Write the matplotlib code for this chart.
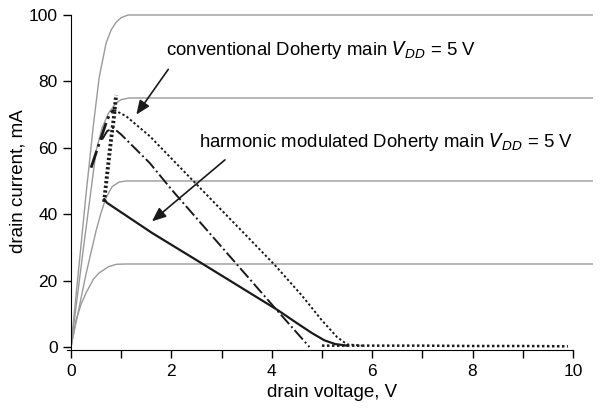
import matplotlib
matplotlib.use("Agg")
import matplotlib.pyplot as plt

plt.rcParams["font.family"] = ["Liberation Sans", "DejaVu Sans"]

# gray device curves (drain voltage V, drain current mA)
iv_100_v = [0, 0.15, 0.3, 0.44, 0.56, 0.7, 0.8, 0.9, 1.0, 1.14, 10.4]
iv_100_i = [0, 23, 46, 66, 81, 91.6, 95.5, 97.8, 99.2, 100, 100]
iv_75_v = [0, 0.25, 0.5, 0.62, 0.75, 0.9, 1.0, 1.16, 10.4]
iv_75_i = [0, 30, 59, 66, 70.5, 73.5, 74.5, 75, 75]
iv_50_v = [0, 0.3, 0.5, 0.6, 0.7, 0.82, 0.96, 1.1, 10.4]
iv_50_i = [0, 22, 35, 40.5, 45, 48.3, 49.7, 50, 50]
iv_25_v = [0, 0.1, 0.2, 0.3, 0.45, 0.56, 0.75, 0.9, 1.1, 10.4]
iv_25_i = [0, 8, 12.8, 16.3, 20.5, 22.3, 24.2, 24.9, 25, 25]

# conventional Doherty main: rising branch and two falling branches
conv_rise_v = [0.40, 0.5, 0.6, 0.7, 0.78, 0.86]
conv_rise_i = [54, 58.5, 63, 67.5, 70.5, 71.4]
conv_outer_v = [0.86, 1.1, 1.57, 2.61, 4.06, 4.6, 5.0, 5.3, 5.5, 5.8]
conv_outer_i = [71.4, 69.5, 63.5, 47.3, 24.7, 15.5, 8, 3, 0.8, 0.4]
conv_inner_v = [0.62, 0.72, 0.84, 1.0, 1.57, 2.01, 2.83, 3.5, 4.06, 4.4, 4.75]
conv_inner_i = [62.5, 65, 66, 64, 55.4, 47.3, 33.1, 21.5, 11.8, 6, 0]

# harmonic modulated Doherty main
harm_up_v = [0.66, 0.72, 0.79, 0.85, 0.9]
harm_up_i = [43.7, 52, 61.4, 68.5, 75.9]
harm_v = [0.66, 0.72, 1.61, 2.67, 4.12, 4.5, 4.8, 5.05, 5.26, 5.5]
harm_i = [44.5, 43.4, 34.4, 24.6, 11.1, 7.2, 4.2, 2.0, 0.9, 0.4]

# traces lying on zero current
zero_v = [5.0, 6.0, 7.0, 8.0, 9.0, 9.9]
zero_i = [0.4, 0.4, 0.4, 0.3, 0.3, 0.2]

fig = plt.figure(figsize=(6.01, 4.08), dpi=100)
ax = fig.add_axes([0.1181, 0.1414, 0.8686, 0.83])

gray = "#9a9a9a"
for v, i in [(iv_100_v, iv_100_i), (iv_75_v, iv_75_i),
             (iv_50_v, iv_50_i), (iv_25_v, iv_25_i)]:
    ax.plot(v, i, color=gray, lw=1.0)

dark = "#1a1a1a"
ax.plot(conv_rise_v, conv_rise_i, color=dark, lw=2.0, ls="-.")
ax.plot(conv_outer_v, conv_outer_i, color=dark, lw=1.4, ls=(0, (1.2, 1.2)))
ax.plot(conv_inner_v, conv_inner_i, color=dark, lw=1.4, ls="-.")
ax.plot(harm_up_v, harm_up_i, color=dark, lw=2.8, ls=(0, (0.6, 0.6)))
ax.plot(harm_v, harm_i, color=dark, lw=1.6)
ax.plot(zero_v, zero_i, color=dark, lw=1.8, ls=(0, (1, 1)))

ax.text(1.89, 89.5, "conventional Doherty main $V_{DD}$ = 5 V",
        fontsize=13.4, va="center", ha="left")
ax.text(2.55, 61.7, "harmonic modulated Doherty main $V_{DD}$ = 5 V",
        fontsize=13.4, va="center", ha="left")
ax.annotate("", xy=(1.27, 69.3), xytext=(1.97, 84.3),
            arrowprops=dict(arrowstyle="-|>,head_length=0.6,head_width=0.25",
                            color=dark, lw=1.2, mutation_scale=14))
ax.annotate("", xy=(1.57, 37.3), xytext=(3.11, 56.9),
            arrowprops=dict(arrowstyle="-|>,head_length=0.6,head_width=0.25",
                            color=dark, lw=1.2, mutation_scale=14))

ax.set_xlim(0, 10.4)
ax.set_ylim(-1, 101)
ax.spines["top"].set_visible(False)
ax.spines["right"].set_visible(False)
ax.spines["left"].set_bounds(-1, 100)
ax.spines["bottom"].set_bounds(-0.08, 10)
ax.set_xticks(range(0, 11))
ax.set_xticklabels([str(x) if x % 2 == 0 else "" for x in range(0, 11)])
ax.set_yticks(range(0, 101, 20))
ax.tick_params(direction="out", length=6, width=1, labelsize=12.5)
ax.set_xlabel("drain voltage, V", fontsize=13.5, labelpad=4)
ax.set_ylabel("drain current, mA", fontsize=13.5, labelpad=2)

fig.savefig("out.png", dpi=100)
